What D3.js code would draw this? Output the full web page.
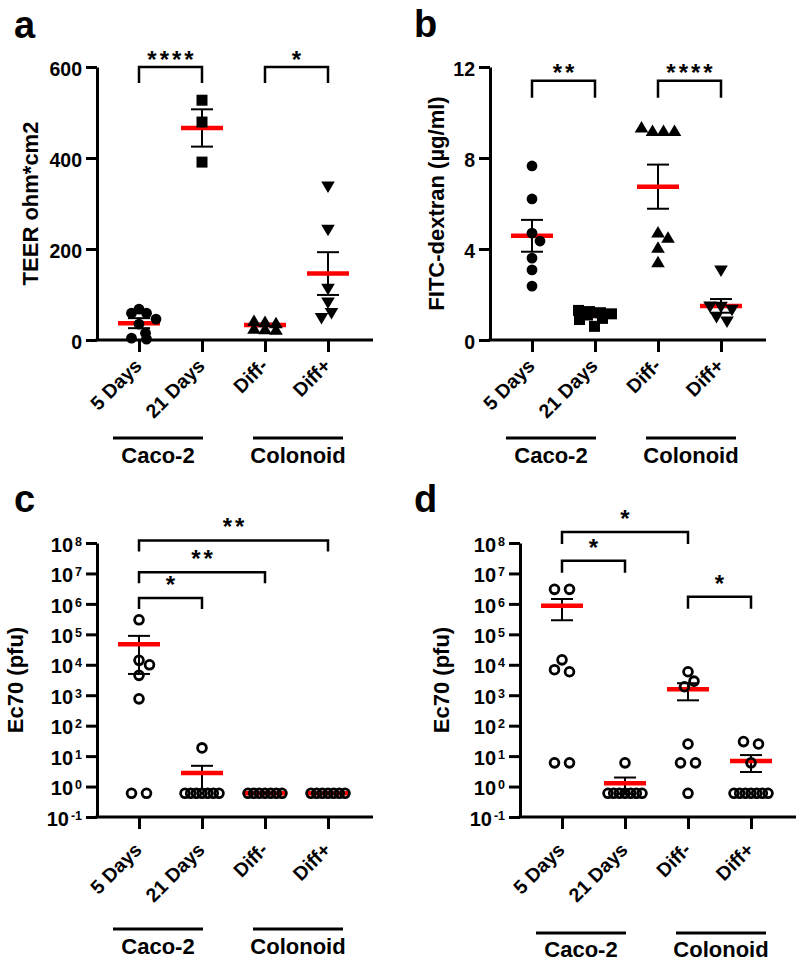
<!DOCTYPE html>
<html><head><meta charset="utf-8">
<script src="https://cdn.jsdelivr.net/npm/d3@7"></script>
<style>
body{margin:0;background:#fff;}
svg text{font-family:"Liberation Sans",Arial,Helvetica,sans-serif;font-weight:bold;fill:#000;}
</style>
</head><body>
<svg id="chart" width="800" height="966"></svg>
<script>
// ---------------- DATA ----------------
const categories = ["5 Days", "21 Days", "Diff-", "Diff+"];
const groupLabels = ["Caco-2", "Colonoid"];

// Panel a: TEER (ohm*cm2)
const teerTicks = [0, 200, 400, 600];
const teer5Days = [68, 59, 59, 46, 35, 15, 4, 2];
const teer21Days = [527, 479, 391];
const teerDiffNeg = [42, 40, 37, 25, 24, 23];
const teerDiffPos = [337, 242, 112, 82, 59, 48];
const teerMean = [37, 466, 33, 146];
const teerSem = [11, 41, 3, 47];
const teerSig = [{from: 0, to: 1, label: "****", level: 600}, {from: 2, to: 3, label: "*", level: 600}];

// Panel b: FITC-dextran (µg/ml)
const fitcTicks = [0, 4, 8, 12];
const fitc5Days = [7.65, 6.2, 4.7, 4.35, 3.6, 3.08, 2.37];
const fitc21Days = [1.3, 1.25, 1.2, 1.15, 1.1, 0.95, 0.9, 0.6];
const fitcDiffNeg = [9.35, 9.2, 9.2, 9.2, 4.73, 4.5, 4.06, 3.43];
const fitcDiffPos = [3.05, 1.46, 1.45, 1.32, 1.0, 0.8];
const fitcMean = [4.58, 1.1, 6.74, 1.5];
const fitcSem = [0.7, 0.1, 0.97, 0.3];
const fitcSig = [{from: 0, to: 1, label: "**", level: 11.4}, {from: 2, to: 3, label: "****", level: 11.4}];

// Panel c: Ec70 (pfu)
const logTickExponents = [-1, 0, 1, 2, 3, 4, 5, 6, 7, 8];
const ec70c5Days = [3e5, 1.4e4, 1e4, 4.5e3, 760, 0.6, 0.6];
const ec70c21Days = [18.6, 0.6, 0.6, 0.6, 0.6, 0.6, 0.6, 0.6];
const ec70cDiffNeg = [0.6, 0.6, 0.6, 0.6, 0.6, 0.6, 0.6];
const ec70cDiffPos = [0.6, 0.6, 0.6, 0.6, 0.6, 0.6, 0.6];
const ec70cMean = [4.7e4, 2.8, 0.6, 0.6];
const ec70cSem = [4.2e4, 2.0, 0, 0];
const ec70cSig = [{from: 0, to: 1, label: "*", level: 1.55e6}, {from: 0, to: 2, label: "**", level: 1.1e7}, {from: 0, to: 3, label: "**", level: 1.2e8}];

// Panel d: Ec70 (pfu)
const ec70d5Days = [3e6, 3e6, 1.45e4, 6.9e3, 5.9e3, 6, 6];
const ec70d21Days = [6, 0.6, 0.6, 0.6, 0.6, 0.6, 0.6, 0.6];
const ec70dDiffNeg = [5.9e3, 2.9e3, 1.9e3, 25, 6, 6, 0.6];
const ec70dDiffPos = [30, 25, 6, 0.6, 0.6, 0.6, 0.6, 0.6, 0.6, 0.6];
const ec70dMean = [8.7e5, 1.28, 1.58e3, 6.9];
const ec70dSem = [5.8e5, 0.7, 900, 3.9];
const ec70dSig = [{from: 0, to: 1, label: "*", level: 2.6e7}, {from: 0, to: 2, label: "*", level: 2.3e8}, {from: 2, to: 3, label: "*", level: 1.7e6}];

// ---------------- DRAWING ----------------
const svg = d3.select("#chart");
const RED = "#ff0000";

function swarm(vals, y, D, maxHalf) {
  const idx = vals.map((v, i) => i).sort((a, b) => vals[b] - vals[a]);
  const placed = [];
  const off = new Array(vals.length).fill(0);
  let i = 0;
  while (i < idx.length) {
    const py0 = y(vals[idx[i]]);
    let j = i;
    while (j < idx.length && Math.abs(y(vals[idx[j]]) - py0) <= 4) j++;
    const k = j - i;
    if (k === 1) {
      const py = py0;
      let best = null;
      for (let s = 0; s <= maxHalf && best === null; s += 0.5) {
        for (const c of (s === 0 ? [0] : [s, -s])) {
          if (placed.every(p => Math.hypot(p.dx - c, p.py - py) >= D)) { best = c; break; }
        }
      }
      if (best === null) {
        let bm = -1;
        for (let c = -maxHalf; c <= maxHalf; c += 0.5) {
          const m = d3.min(placed, p => Math.hypot(p.dx - c, p.py - py));
          if (m > bm) { bm = m; best = c; }
        }
      }
      off[idx[i]] = best; placed.push({dx: best, py});
    } else {
      const sp = k === 2 ? 15 : Math.min(D, 2 * maxHalf / (k - 1));
      for (let t = 0; t < k; t++) {
        const c = (t - (k - 1) / 2) * sp;
        off[idx[i + t]] = c;
        placed.push({dx: c, py: y(vals[idx[i + t]])});
      }
    }
    i = j;
  }
  return off;
}

function drawMarker(g, type, cx, cy) {
  if (type === "circle") g.append("circle").attr("cx", cx).attr("cy", cy).attr("r", 5.4).attr("fill", "#000");
  else if (type === "open") g.append("circle").attr("cx", cx).attr("cy", cy).attr("r", 4.4).attr("fill", "none").attr("stroke", "#000").attr("stroke-width", 2.8);
  else if (type === "square") g.append("rect").attr("x", cx - 5.5).attr("y", cy - 5.5).attr("width", 11).attr("height", 11).attr("fill", "#000");
  else if (type === "triUp") g.append("path").attr("d", `M${cx},${cy - 6.3} L${cx + 6.8},${cy + 5.2} L${cx - 6.8},${cy + 5.2} Z`).attr("fill", "#000");
  else if (type === "triDown") g.append("path").attr("d", `M${cx - 6.8},${cy - 5.2} L${cx + 6.8},${cy - 5.2} L${cx},${cy + 6.3} Z`).attr("fill", "#000");
}

function panel(cfg) {
  const L = cfg.L, top = cfg.top, bottom = cfg.bottom;
  const g = svg.append("g");
  const x = d3.scalePoint().domain(categories).range([L + 42, L + 231]);
  const y = cfg.log
    ? d3.scaleLog().domain([0.1, 1e8]).range([bottom, top])
    : d3.scaleLinear().domain(cfg.domain).range([bottom, top]);

  // y axis
  const yAxis = d3.axisLeft(y).tickSize(11).tickSizeOuter(0).tickPadding(4);
  if (cfg.log) yAxis.tickValues(logTickExponents.map(e => Math.pow(10, e))).tickFormat(() => "");
  else yAxis.tickValues(cfg.ticks).tickFormat(d3.format("d"));
  const ya = g.append("g").attr("transform", `translate(${L},0)`).call(yAxis);
  ya.select(".domain").attr("stroke", "#000").attr("stroke-width", 3);
  ya.selectAll(".tick line").attr("stroke", "#000").attr("stroke-width", 3);
  ya.selectAll(".tick text").attr("font-size", 19.5).attr("font-weight", "bold").attr("fill", "#000")
    .attr("font-family", '"Liberation Sans",Arial,sans-serif').attr("dy", "0.42em");
  if (cfg.log) {
    ya.selectAll(".tick text").each(function(d, i) {
      const t = d3.select(this);
      t.text(null);
      t.append("tspan").attr("font-size", 20).text("10");
      t.append("tspan").attr("font-size", 12.5).attr("dx", 2).attr("dy", -6).text(String(logTickExponents[i]));
    });
  }

  // x axis line + ticks
  g.append("line").attr("x1", L - 1.5).attr("x2", L + 276).attr("y1", bottom).attr("y2", bottom)
    .attr("stroke", "#000").attr("stroke-width", 3);
  const xAxis = d3.axisBottom(x).tickSize(12).tickSizeOuter(0).tickFormat("");
  const xa = g.append("g").attr("transform", `translate(0,${bottom})`).call(xAxis);
  xa.select(".domain").remove();
  xa.selectAll(".tick line").attr("stroke", "#000").attr("stroke-width", 3);

  // category labels (rotated)
  categories.forEach(c => {
    g.append("text").attr("text-anchor", "end").attr("font-size", 19.5)
      .attr("transform", `translate(${x(c) + 4},${cfg.xlabY}) rotate(-45)`).text(c);
  });

  // group labels
  const gl = [[L + 16, L + 106], [L + 156, L + 246]];
  groupLabels.forEach((lab, i) => {
    g.append("line").attr("x1", gl[i][0]).attr("x2", gl[i][1]).attr("y1", cfg.grpLineY).attr("y2", cfg.grpLineY)
      .attr("stroke", "#000").attr("stroke-width", 3);
    g.append("text").attr("x", (gl[i][0] + gl[i][1]) / 2).attr("y", cfg.grpTextY).attr("text-anchor", "middle")
      .attr("font-size", 22).text(lab);
  });

  // axis title
  g.append("text").attr("transform", `translate(${cfg.titleX},${(top + bottom) / 2}) rotate(-90)`)
    .attr("text-anchor", "middle").attr("dy", "0.36em").attr("font-size", 22).text(cfg.title);

  // panel letter
  g.append("text").attr("x", cfg.letterPos[0]).attr("y", cfg.letterPos[1]).attr("font-size", 38).text(cfg.letter);

  // significance brackets
  cfg.sig.forEach(s => {
    const x1 = x(categories[s.from]), x2 = x(categories[s.to]), yy = y(s.level);
    g.append("path").attr("d", `M${x1},${yy + cfg.legLen} L${x1},${yy} L${x2},${yy} L${x2},${yy + cfg.legLen}`)
      .attr("fill", "none").attr("stroke", "#000").attr("stroke-width", 2.5);
    g.append("text").attr("x", (x1 + x2) / 2 + 1.5).attr("y", yy - cfg.sigGap + 4.8).attr("text-anchor", "middle")
      .attr("font-size", 24).attr("letter-spacing", 3).text(s.label);
  });

  // error bars
  categories.forEach((c, i) => {
    const m = cfg.mean[i], s = cfg.sem[i];
    if (s > 0) {
      const lo = cfg.log ? Math.max(m - s, 0.11) : m - s;
      const hi = m + s;
      const cx = x(c);
      g.append("line").attr("x1", cx).attr("x2", cx).attr("y1", y(lo)).attr("y2", y(hi)).attr("stroke", "#000").attr("stroke-width", 2);
      [lo, hi].forEach(v => g.append("line").attr("x1", cx - 11).attr("x2", cx + 11).attr("y1", y(v)).attr("y2", y(v))
        .attr("stroke", "#000").attr("stroke-width", 2));
    }
  });
  // mean lines
  categories.forEach((c, i) => {
    g.append("line").attr("x1", x(c) - 21).attr("x2", x(c) + 21).attr("y1", y(cfg.mean[i])).attr("y2", y(cfg.mean[i]))
      .attr("stroke", RED).attr("stroke-width", 4.5);
  });
  // points
  cfg.series.forEach((vals, i) => {
    const off = swarm(vals, y, 11, 17);
    vals.forEach((v, j) => drawMarker(g, cfg.markers[i], x(categories[i]) + off[j], y(v)));
  });
}

panel({letter: "a", letterPos: [14, 38], L: 97, top: 67, bottom: 340, log: false, domain: [0, 600], ticks: teerTicks,
  title: "TEER ohm*cm2", titleX: 30, series: [teer5Days, teer21Days, teerDiffNeg, teerDiffPos],
  mean: teerMean, sem: teerSem, markers: ["circle", "square", "triUp", "triDown"], sig: teerSig, sigGap: 4, legLen: 16,
  xlabY: 367, grpLineY: 438, grpTextY: 463});
panel({letter: "b", letterPos: [414, 37], L: 490, top: 67, bottom: 340, log: false, domain: [0, 12], ticks: fitcTicks,
  title: "FITC-dextran (µg/ml)", titleX: 436, series: [fitc5Days, fitc21Days, fitcDiffNeg, fitcDiffPos],
  mean: fitcMean, sem: fitcSem, markers: ["circle", "square", "triUp", "triDown"], sig: fitcSig, sigGap: 4, legLen: 17,
  xlabY: 367, grpLineY: 438, grpTextY: 463});
panel({letter: "c", letterPos: [14, 512], L: 97, top: 543, bottom: 817, log: true,
  title: "Ec70 (pfu)", titleX: 15, series: [ec70c5Days, ec70c21Days, ec70cDiffNeg, ec70cDiffPos],
  mean: ec70cMean, sem: ec70cSem, markers: ["open", "open", "open", "open"], sig: ec70cSig, sigGap: 10, legLen: 11,
  xlabY: 851, grpLineY: 929, grpTextY: 954});
panel({letter: "d", letterPos: [414, 512], L: 520, top: 543, bottom: 817, log: true,
  title: "Ec70 (pfu)", titleX: 441, series: [ec70d5Days, ec70d21Days, ec70dDiffNeg, ec70dDiffPos],
  mean: ec70dMean, sem: ec70dSem, markers: ["open", "open", "open", "open"], sig: ec70dSig, sigGap: 10, legLen: 12,
  xlabY: 851, grpLineY: 933, grpTextY: 957});
</script>
</body></html>
